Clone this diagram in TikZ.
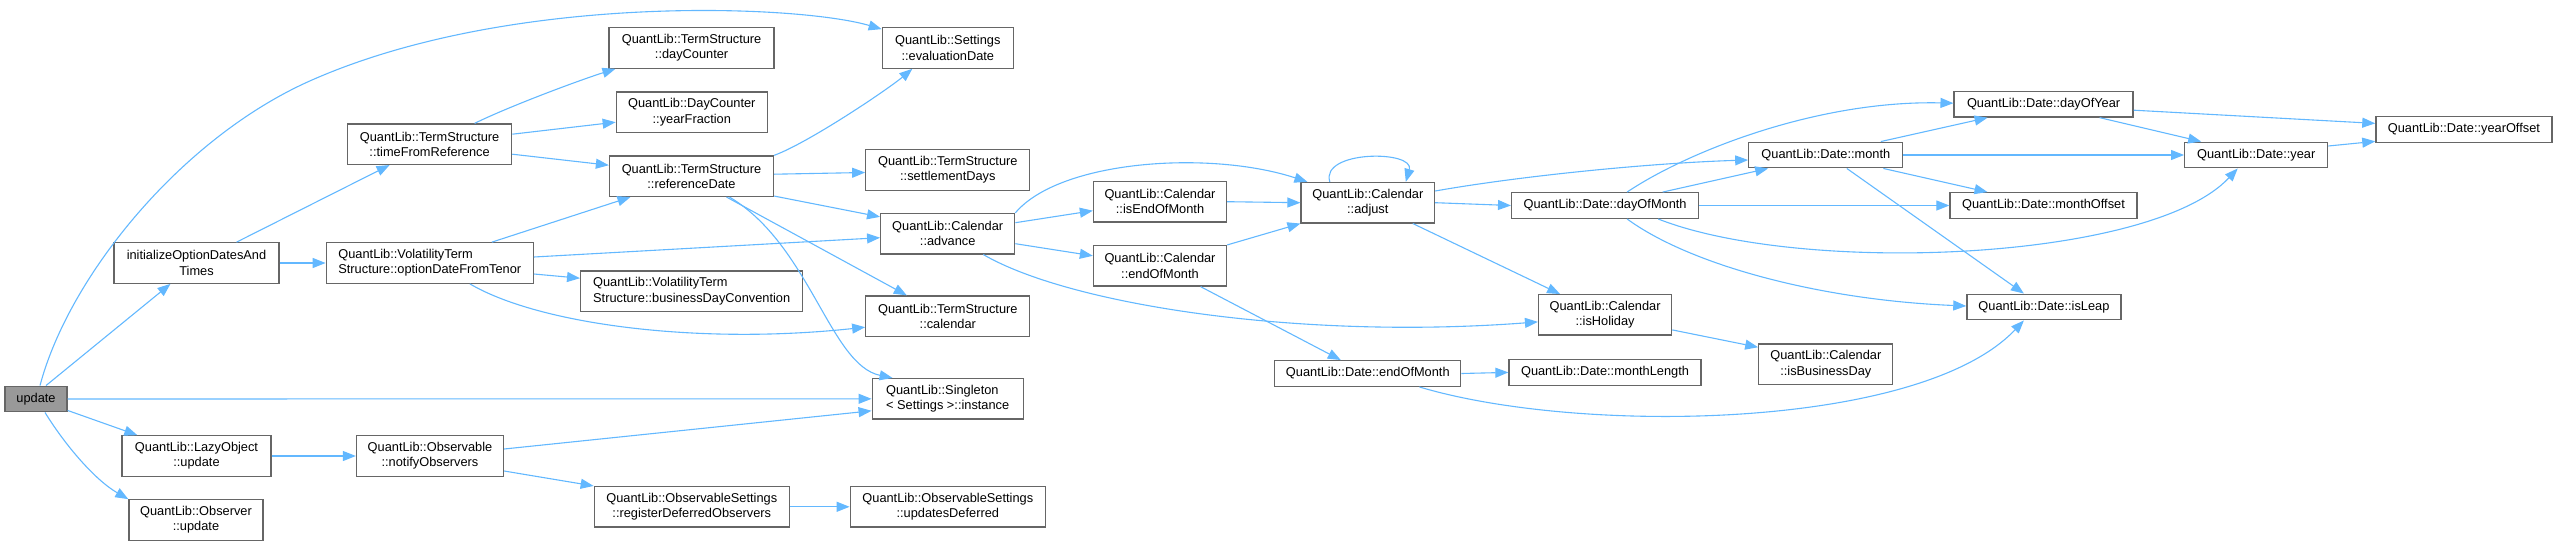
\documentclass[tikz,border=0pt]{standalone}
\usepackage{fontspec}
\setmainfont{Liberation Sans}
\usetikzlibrary{arrows.meta}
\definecolor{cgB}{RGB}{99,184,255}
\definecolor{cgG}{RGB}{102,102,102}
\definecolor{cgF}{RGB}{153,153,153}

\begin{document}
\begin{tikzpicture}[x=1pt,y=-1pt,
  fn/.style={draw=cgG,fill=white,line width=1.3pt,inner sep=2pt,minimum height=40.4pt,align=center,font=\fontsize{12.8}{15.3}\selectfont},
  fn1/.style={fn,minimum height=25.6pt},
  call/.style={draw=cgB,line width=1.1pt,arrows={-Triangle[length=13pt,width=10pt]}}]
\useasboundingbox (0,0) rectangle (2557,546);
\node[fn1,fill=cgF,minimum width=62] (upd) at (36,399) {update};
\node[fn,minimum width=165] (init) at (196.5,263) {initializeOptionDatesAnd\\Times};
\node[fn,align=left,minimum width=207] (odft) at (429.8,263) {QuantLib::VolatilityTerm\\Structure::optionDateFromTenor};
\node[fn,align=left,minimum width=222] (bdc) at (691.7,291.2) {QuantLib::VolatilityTerm\\Structure::businessDayConvention};
\node[fn,align=left,minimum width=151] (inst) at (947.7,398.8) {QuantLib::Singleton\\< Settings >::instance};
\foreach \nm/\cx/\cy/\w/\cls/\mem in {lazy/196.5/456/149/LazyObject/update, obs/196/520/134/Observer/update,
  tfr/429.6/144.2/164/TermStructure/timeFromReference, notify/430/456/147/Observable/notifyObservers,
  dcnt/691.6/48/165/TermStructure/dayCounter, yfrac/691.8/112.2/151/DayCounter/yearFraction,
  refd/691.5/176.2/164/TermStructure/referenceDate, rdo/691.8/506.8/195/ObservableSettings/registerDeferredObservers,
  evald/947.8/48/131/Settings/evaluationDate, sdays/947.8/170/164/TermStructure/settlementDays,
  adv/947.7/233.7/134/Calendar/advance, tcal/947.8/316.2/164/TermStructure/calendar,
  upddef/947.8/506.8/195/ObservableSettings/updatesDeferred,
  iseom/1160/201.7/133/Calendar/isEndOfMonth, ceom/1160/265.8/133/Calendar/endOfMonth,
  adj/1367.8/202.7/133.5/Calendar/adjust, hol/1605.1/314.9/133/Calendar/isHoliday,
  bday/1825.8/364.1/134/Calendar/isBusinessDay}
  \node[fn,minimum width=\w] (\nm) at (\cx,\cy) {QuantLib::\cls\\::\mem};
\foreach \nm/\cx/\cy/\w/\mem in {dom/1605.1/205.5/187/dayOfMonth, deom/1367.8/373.5/186/endOfMonth,
  mlen/1605/372.4/192/monthLength, month/1825.8/155/154/month, doy/2043.6/104.2/179/dayOfYear,
  moff/2043.5/205.5/187/monthOffset, year/2256.2/155/143/year, yoff/2463.9/129.4/176/yearOffset,
  leap/2043.9/307/154/isLeap}
  \node[fn1,minimum width=\w] (\nm) at (\cx,\cy) {QuantLib::Date::\mem};

\foreach \a/\b in {upd.east/inst.west, init.east/odft.west, iseom.east/adj.west, ceom.north east/adj.south west,
  adj.east/dom.west, dom.east/moff.west, month.east/year.west, deom.east/mlen.west, lazy.east/notify.west, rdo.east/upddef.west}
  \draw[call] (\a) -- (\b);
\draw[call] ([xshift=10pt]upd.north) -- ([xshift=-26pt]init.south);
\draw[call] ([yshift=2pt]upd.south east) -- ([xshift=16pt]lazy.north west);
\draw[call] ([xshift=40pt]init.north) -- ([xshift=-40pt]tfr.south);
\draw[call] ([yshift=10pt]tfr.east) -- ([yshift=-10pt]yfrac.west);
\draw[call] ([yshift=-10pt]tfr.east) -- ([yshift=11pt]refd.west);
\draw[call] ([xshift=62pt]odft.north) -- ([xshift=-61pt]refd.south);
\draw[call] ([yshift=6pt]odft.east) -- ([yshift=-4pt]adv.west);
\draw[call] ([yshift=-11pt]odft.east) -- ([yshift=13pt]bdc.west);
\draw[call] ([yshift=2pt]refd.east) -- ([yshift=-2.5pt]sdays.west);
\draw[call] ([yshift=1pt]refd.south east) -- ([yshift=-4pt]adv.north west);
\draw[call] ([xshift=35pt]refd.south) -- ([xshift=-41pt]tcal.north);
\draw[call] ([yshift=11pt]adv.east) -- ([yshift=-9pt]iseom.west);
\draw[call] ([yshift=-10pt]adv.east) -- ([yshift=10pt]ceom.west);
\draw[call] ([xshift=40.6pt]ceom.south) -- ([xshift=-27pt]deom.north);
\draw[call] ([xshift=45pt]adj.south) -- ([xshift=-45pt]hol.north);
\draw[call] ([xshift=57.6pt]dom.north) -- ([xshift=20pt]month.south west);
\draw[call] ([xshift=55pt]month.north) -- ([xshift=-56pt]doy.south);
\draw[call] ([xshift=57.5pt]month.south) -- ([xshift=-56pt]moff.north);
\draw[call] ([xshift=21pt]month.south) -- ([xshift=-20pt]leap.north);
\draw[call] ([yshift=-6pt]doy.east) -- ([yshift=6pt]yoff.west);
\draw[call] ([xshift=56pt]doy.south) -- ([xshift=-55pt]year.north);
\draw[call] ([yshift=9pt]year.east) -- ([yshift=1.5pt]yoff.south west);
\draw[call] ([yshift=-15pt]hol.east) -- ([yshift=-4pt]bday.north west);
\draw[call] ([yshift=7pt]notify.east) -- ([yshift=-12pt]inst.west);
\draw[call] ([yshift=-15pt]notify.east) -- (rdo.north west);

\draw[call] ([xshift=4pt]upd.north) .. controls (69,276) and (182,137) .. (312,80) .. controls (512,-8) and (800,5) .. ([yshift=-2pt]evald.north west);
\draw[call] ([xshift=9pt]upd.south) .. controls (65,445) and (95,480) .. (obs.north west);
\draw[call] ([xshift=45pt]tfr.north) .. controls (510,106) and (580,80) .. ([xshift=7pt]dcnt.south west);
\draw[call] ([xshift=40pt]odft.south) .. controls (540,325) and (700,345) .. ([yshift=-11pt]tcal.west);
\draw[call] (refd.north east) .. controls (808,143) and (887,90) .. ([xshift=-35.5pt]evald.south);
\draw[call] ([xshift=38pt]refd.south) .. controls (810,245) and (830,365) .. ([xshift=21pt]inst.north west);
\draw[call] (adv.north east) .. controls (1060,160) and (1210,150) .. ([xshift=7pt]adj.north west);
\draw[call] ([xshift=35.6pt]adv.south) .. controls (1070,305) and (1300,340) .. ([yshift=-7pt]hol.west);
\draw[call] ([xshift=-38pt]adj.north) .. controls (1320,150) and (1415,150) .. ([xshift=38pt]adj.north);
\draw[call] ([yshift=11.7pt]adj.east) .. controls (1520,176) and (1650,163) .. ([yshift=-5pt]month.west);
\draw[call] ([xshift=22pt]dom.north) .. controls (1690,150) and (1820,100) .. ([yshift=1pt]doy.west);
\draw[call] ([xshift=53pt]dom.south) .. controls (1800,275) and (2150,262) .. ([xshift=-18.5pt]year.south);
\draw[call] ([xshift=22pt]dom.south) .. controls (1690,265) and (1820,300) .. ([yshift=1pt]leap.west);
\draw[call] ([xshift=51.6pt]deom.south) .. controls (1580,435) and (1920,430) .. ([xshift=-20pt]leap.south);
\end{tikzpicture}
\end{document}
